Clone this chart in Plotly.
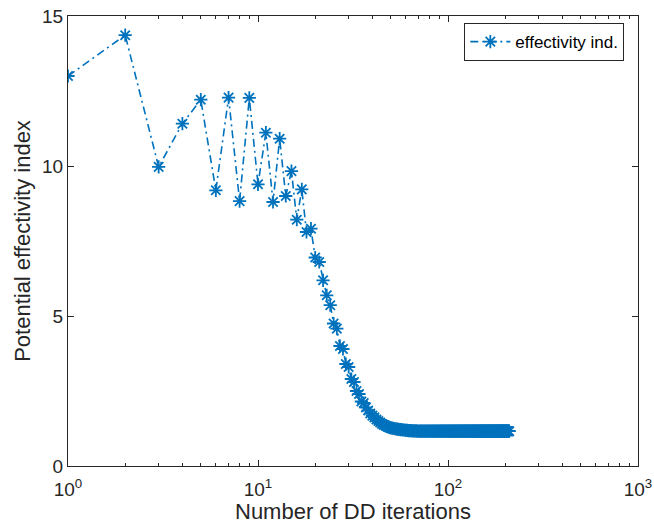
import plotly.graph_objects as go

iterations = list(range(1, 211))

values_early = [13.00, 14.36, 9.97, 11.41, 12.21, 9.19, 12.28, 8.83, 12.27, 9.39,
                11.11, 8.80, 10.91, 9.00, 9.83, 8.21, 9.22, 7.80, 7.91, 6.95,
                6.80, 6.19, 5.69, 5.36, 4.75, 4.58, 4.00, 3.90, 3.40, 3.30,
                2.90, 2.80, 2.50, 2.40, 2.15, 2.10, 1.95, 1.85, 1.75, 1.68,
                1.62, 1.55, 1.50, 1.45, 1.40, 1.37, 1.34, 1.31, 1.29, 1.27,
                1.26, 1.25, 1.24, 1.23, 1.22, 1.21, 1.21, 1.20, 1.20, 1.19,
                1.19, 1.18, 1.18, 1.18, 1.17, 1.17, 1.17, 1.17, 1.16, 1.16]
values_tail = [
    1.16, 1.16, 1.16, 1.16, 1.16, 1.16, 1.16, 1.16, 1.16, 1.16,
    1.16, 1.16, 1.16, 1.16, 1.16, 1.16, 1.16, 1.16, 1.16, 1.16,
    1.16, 1.16, 1.16, 1.16, 1.16, 1.16, 1.16, 1.16, 1.16, 1.16,
    1.16, 1.16, 1.16, 1.16, 1.16, 1.16, 1.16, 1.16, 1.16, 1.16,
    1.16, 1.16, 1.16, 1.16, 1.16, 1.16, 1.16, 1.16, 1.16, 1.16,
    1.16, 1.16, 1.16, 1.16, 1.16, 1.16, 1.16, 1.16, 1.16, 1.16,
    1.16, 1.16, 1.16, 1.16, 1.16, 1.16, 1.16, 1.16, 1.16, 1.16,
    1.16, 1.16, 1.16, 1.16, 1.16, 1.16, 1.16, 1.16, 1.16, 1.16,
    1.16, 1.16, 1.16, 1.16, 1.16, 1.16, 1.16, 1.16, 1.16, 1.16,
    1.16, 1.16, 1.16, 1.16, 1.16, 1.16, 1.16, 1.16, 1.16, 1.16,
    1.16, 1.16, 1.16, 1.16, 1.16, 1.16, 1.16, 1.16, 1.16, 1.16,
    1.16, 1.16, 1.16, 1.16, 1.16, 1.16, 1.16, 1.16, 1.16, 1.16,
    1.16, 1.16, 1.16, 1.16, 1.16, 1.16, 1.16, 1.16, 1.16, 1.16,
    1.16, 1.16, 1.16, 1.16, 1.16, 1.16, 1.16, 1.16, 1.16, 1.16]
values = values_early + values_tail

x_tickvals = [1, 10, 100, 1000]
x_ticktext = ["10<sup>0</sup>", "10<sup>1</sup>", "10<sup>2</sup>", "10<sup>3</sup>"]
x_minor = [2, 3, 4, 5, 6, 7, 8, 9, 20, 30, 40, 50, 60, 70, 80, 90,
           200, 300, 400, 500, 600, 700, 800, 900]
y_tickvals = [0, 5, 10, 15]

color = "#0072BD"
axis_color = "#262626"
font = "Liberation Sans, Arial, Helvetica, sans-serif"

fig = go.Figure()
fig.add_trace(go.Scatter(
    x=iterations[:len(values)], y=values,
    mode="lines+markers",
    name="effectivity ind.",
    line=dict(color=color, width=1.6, dash="8px,4px,2px,4px"),
    marker=dict(symbol="asterisk-open", size=11, color=color,
                line=dict(color=color, width=1.8)),
))

fig.update_layout(
    width=654, height=524,
    margin=dict(l=68, r=16, t=16, b=58),
    paper_bgcolor="white", plot_bgcolor="white",
    font=dict(family=font, size=19, color=axis_color),
    showlegend=True,
    legend=dict(x=0.976, y=0.942, xanchor="right", yanchor="middle",
                bordercolor=axis_color, borderwidth=1, bgcolor="white",
                font=dict(size=17, color="black"),
                itemwidth=40, tracegroupgap=0),
    xaxis=dict(
        type="log", range=[0, 3], automargin=False,
        tickvals=x_tickvals, ticktext=x_ticktext,
        ticks="inside", ticklen=6, tickcolor=axis_color,
        ticklabelstandoff=6,
        minor=dict(tickvals=x_minor, ticks="inside", ticklen=3, tickcolor=axis_color),
        showline=True, linecolor=axis_color, linewidth=1, mirror="allticks",
        showgrid=False, zeroline=False,
        title=dict(text="Number of DD iterations", font=dict(size=22), standoff=3),
        tickfont=dict(size=19),
    ),
    yaxis=dict(
        range=[0, 15], automargin=False,
        tickvals=y_tickvals,
        ticks="inside", ticklen=6, tickcolor=axis_color,
        showline=True, linecolor=axis_color, linewidth=1, mirror="allticks",
        showgrid=False, zeroline=False,
        title=dict(text="Potential effectivity index", font=dict(size=22), standoff=5),
        tickfont=dict(size=19),
    ),
)

fig.write_html("out.html", config={"displayModeBar": False},
               post_script="document.body.style.margin='0px';")
